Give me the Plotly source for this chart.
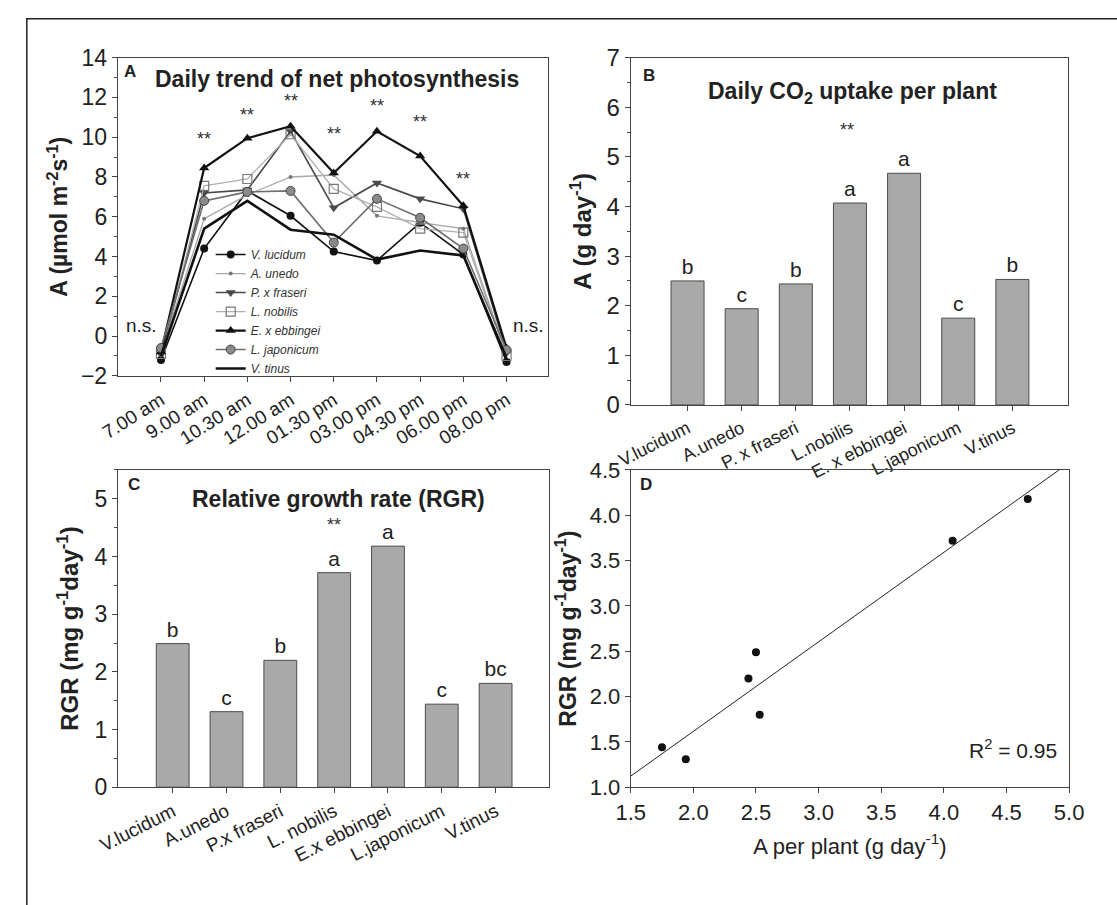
import plotly.graph_objects as go
import numpy as np

# ---------------- data ----------------
times = ["7.00 am", "9.00 am", "10.30 am", "12.00 am", "01.30 pm",
         "03.00 pm", "04.30 pm", "06.00 pm", "08.00 pm"]
v_lucidum = [-1.2, 4.4, 7.3, 6.05, 4.25, 3.8, 5.7, 4.1, -1.3]
a_unedo = [-0.8, 5.9, 7.1, 8.0, 8.1, 6.05, 5.7, 5.4, -0.9]
p_fraseri = [-0.9, 7.2, 7.35, 10.3, 6.45, 7.7, 6.9, 6.4, -0.8]
l_nobilis = [-0.9, 7.55, 7.9, 10.15, 7.4, 6.5, 5.4, 5.2, -1.0]
e_ebbingei = [-0.8, 8.45, 9.95, 10.55, 8.2, 10.3, 9.05, 6.55, -0.6]
l_japonicum = [-0.6, 6.8, 7.25, 7.3, 4.7, 6.9, 5.95, 4.4, -0.7]
v_tinus = [-1.0, 5.4, 6.8, 5.35, 5.1, 3.85, 4.3, 4.05, -1.1]
star_times = ["9.00 am", "10.30 am", "12.00 am", "01.30 pm", "03.00 pm", "04.30 pm", "06.00 pm"]
star_levels = [9.9, 11.1, 11.8, 10.15, 11.55, 10.75, 7.9]

species_b = ["V.lucidum", "A.unedo", "P. x fraseri", "L.nobilis", "E. x ebbingei", "L.japonicum", "V.tinus"]
a_per_plant = [2.50, 1.94, 2.44, 4.07, 4.67, 1.75, 2.53]
letters_b = ["b", "c", "b", "a", "a", "c", "b"]

species_c = ["V.lucidum", "A.unedo", "P.x fraseri", "L. nobilis", "E.x ebbingei", "L.japonicum", "V.tinus"]
rgr = [2.49, 1.31, 2.20, 3.72, 4.18, 1.44, 1.80]
letters_c = ["b", "c", "b", "a", "a", "c", "bc"]

FONT = "Liberation Sans, Arial, sans-serif"
W, H = 1117, 905


def px_x(p):
    return p / W


def px_y(p):
    return (H - p) / H


fig = go.Figure()

# ---------------- panel A ----------------
series = [
    ("V. lucidum", v_lucidum, dict(color="#111111", width=1.6),
     dict(symbol="circle", size=8, color="#111111")),
    ("A. unedo", a_unedo, dict(color="#a8a8a8", width=1.3),
     dict(symbol="circle", size=4, color="#777777")),
    ("P. x fraseri", p_fraseri, dict(color="#4a4a4a", width=1.6),
     dict(symbol="triangle-down", size=9, color="#4a4a4a")),
    ("L. nobilis", l_nobilis, dict(color="#b0b0b0", width=1.3),
     dict(symbol="square-open", size=9, color="#777777", line=dict(width=1.2))),
    ("E. x ebbingei", e_ebbingei, dict(color="#111111", width=2.2),
     dict(symbol="triangle-up", size=9, color="#111111")),
    ("L. japonicum", l_japonicum, dict(color="#6e6e6e", width=1.6),
     dict(symbol="circle", size=9, color="#8a8a8a", line=dict(color="#444444", width=1))),
    ("V. tinus", v_tinus, dict(color="#111111", width=2.6), None),
]
for name, vals, ln, mk in series:
    if mk is None:
        fig.add_trace(go.Scatter(x=times, y=vals, name=name, mode="lines", line=ln,
                                 xaxis="x", yaxis="y"))
    else:
        fig.add_trace(go.Scatter(x=times, y=vals, name=name, mode="lines+markers", line=ln,
                                 marker=mk, xaxis="x", yaxis="y"))

# ---------------- panel B ----------------
fig.add_trace(go.Bar(x=species_b, y=a_per_plant, text=letters_b, textposition="outside",
                     textfont=dict(size=21, color="#222"), cliponaxis=False,
                     marker=dict(color="#a9a9a9", line=dict(color="#4d4d4d", width=1)),
                     width=0.61, showlegend=False, xaxis="x2", yaxis="y2"))

# ---------------- panel C ----------------
fig.add_trace(go.Bar(x=species_c, y=rgr, text=letters_c, textposition="outside",
                     textfont=dict(size=21, color="#222"), cliponaxis=False,
                     marker=dict(color="#a9a9a9", line=dict(color="#4d4d4d", width=1)),
                     width=0.61, showlegend=False, xaxis="x3", yaxis="y3"))

# ---------------- panel D ----------------
slope, intercept = np.polyfit(a_per_plant, rgr, 1)
xf = np.array([1.5, 5.0])
fig.add_trace(go.Scatter(x=xf, y=slope * xf + intercept, mode="lines",
                         line=dict(color="#222", width=1), showlegend=False,
                         xaxis="x4", yaxis="y4"))
fig.add_trace(go.Scatter(x=a_per_plant, y=rgr, mode="markers",
                         marker=dict(color="#111", size=8), showlegend=False,
                         xaxis="x4", yaxis="y4"))

# ---------------- axes ----------------
base = dict(showline=True, linecolor="#444", linewidth=1, mirror=True, ticks="outside",
            ticklen=5, tickcolor="#444", showgrid=False, zeroline=False,
            tickfont=dict(family=FONT, size=22, color="#222"))


def ax(**kw):
    d = dict(base)
    d.update(kw)
    return d


dxA = [px_x(100), px_x(545)]
dyA = [px_y(373), px_y(45)]
dxB = [px_x(630), px_x(1082)]
dyB = [px_y(403), px_y(45)]
dxC = [px_x(100), px_x(546)]
dyC = [px_y(797), px_y(470)]
dxD = [px_x(630), px_x(1083)]
dyD = [px_y(797), px_y(470)]

fig.update_layout(
    width=W, height=H, paper_bgcolor="white", plot_bgcolor="white",
    margin=dict(l=0, r=0, t=0, b=0),
    font=dict(family=FONT, color="#222"),
    xaxis=ax(domain=dxA, anchor="y", type="category", range=[-1.0, 8.97], tickangle=-32,
             tickfont=dict(family=FONT, size=19, color="#222")),
    yaxis=ax(domain=dyA, anchor="x", range=[-2, 14], dtick=2,
             tickfont=dict(family=FONT, size=23, color="#222"),
             minor=dict(dtick=1, ticks="outside", ticklen=3, tickcolor="#444"),
             title=dict(text="<b>A (µmol m<sup>-2</sup>s<sup>-1</sup>)</b>",
                        font=dict(family=FONT, size=23), standoff=6)),
    xaxis2=ax(domain=dxB, anchor="y2", type="category", range=[-1.05, 7.03], tickangle=-27,
              tickfont=dict(family=FONT, size=18, color="#222")),
    yaxis2=ax(domain=dyB, anchor="x2", range=[0, 7], dtick=1,
              tickfont=dict(family=FONT, size=24, color="#222"),
              minor=dict(dtick=0.5, ticks="outside", ticklen=3, tickcolor="#444"),
              title=dict(text="<b>A (g day<sup>-1</sup>)</b>",
                         font=dict(family=FONT, size=24), standoff=8)),
    xaxis3=ax(domain=dxC, anchor="y3", type="category", range=[-1.02, 7.0], tickangle=-27,
              tickfont=dict(family=FONT, size=19, color="#222")),
    yaxis3=ax(domain=dyC, anchor="x3", range=[0, 5.5], dtick=1,
              tickfont=dict(family=FONT, size=23, color="#222"),
              minor=dict(dtick=0.5, ticks="outside", ticklen=3, tickcolor="#444"),
              title=dict(text="<b>RGR (mg g<sup>-1</sup>day<sup>-1</sup>)</b>",
                         font=dict(family=FONT, size=24), standoff=8)),
    xaxis4=ax(domain=dxD, anchor="y4", range=[1.5, 5.0], dtick=0.5, tickformat=".1f",
              tickfont=dict(family=FONT, size=22, color="#222"),
              title=dict(text="A per plant (g day<sup>-1</sup>)",
                         font=dict(family=FONT, size=22), standoff=14)),
    yaxis4=ax(domain=dyD, anchor="x4", range=[1.0, 4.5], dtick=0.5, tickformat=".1f",
              tickfont=dict(family=FONT, size=22, color="#222"),
              title=dict(text="<b>RGR (mg g<sup>-1</sup>day<sup>-1</sup>)</b>",
                         font=dict(family=FONT, size=23), standoff=6)),
    legend=dict(x=px_x(196), y=px_y(233), xanchor="left", yanchor="top",
                bgcolor="rgba(0,0,0,0)", borderwidth=0, itemwidth=30,
                font=dict(family=FONT, size=12, color="#333", style="italic"),
                tracegroupgap=0),
)

ann = []
# panel A
ann.append(dict(x=-0.72, y=13.3, xref="x", yref="y", text="<b>A</b>", showarrow=False,
                font=dict(size=17)))
ann.append(dict(x=4.07, y=12.95, xref="x", yref="y", text="<b>Daily trend of net photosynthesis</b>",
                showarrow=False, font=dict(size=23)))
for t, lv in zip(star_times, star_levels):
    ann.append(dict(x=t, y=lv, xref="x", yref="y", text="**", showarrow=False,
                    font=dict(size=18, color="#333")))
ann.append(dict(x=-0.45, y=0.55, xref="x", yref="y", text="n.s.", showarrow=False,
                font=dict(size=19)))
ann.append(dict(x=8.5, y=0.55, xref="x", yref="y", text="n.s.", showarrow=False,
                font=dict(size=19)))
# panel B
ann.append(dict(x=-0.72, y=6.65, xref="x2", yref="y2", text="<b>B</b>", showarrow=False,
                font=dict(size=17)))
ann.append(dict(x=3.05, y=6.3, xref="x2", yref="y2", text="<b>Daily CO<sub>2</sub> uptake per plant</b>",
                showarrow=False, font=dict(size=23)))
ann.append(dict(x=2.95, y=5.55, xref="x2", yref="y2", text="**", showarrow=False,
                font=dict(size=18, color="#333")))
# panel C
ann.append(dict(x=-0.72, y=5.25, xref="x3", yref="y3", text="<b>C</b>", showarrow=False,
                font=dict(size=17)))
ann.append(dict(x=3.08, y=5.0, xref="x3", yref="y3", text="<b>Relative growth rate (RGR)</b>",
                showarrow=False, font=dict(size=23)))
ann.append(dict(x=3.0, y=4.55, xref="x3", yref="y3", text="**", showarrow=False,
                font=dict(size=18, color="#333")))
# panel D
ann.append(dict(x=1.62, y=4.34, xref="x4", yref="y4", text="<b>D</b>", showarrow=False,
                font=dict(size=17)))
ann.append(dict(x=4.55, y=1.42, xref="x4", yref="y4", text="R<sup>2</sup> = 0.95", showarrow=False,
                font=dict(size=21)))
fig.update_layout(annotations=ann)

# outer border (top and left visible)
fig.add_shape(type="rect", xref="paper", yref="paper",
              x0=px_x(6), y0=-0.02, x1=1.02, y1=px_y(5),
              line=dict(color="#222", width=1.5), fillcolor="rgba(0,0,0,0)")

fig.write_html("out.html", config={"displayModeBar": False},
               post_script="document.body.style.margin='0px';document.body.style.overflow='hidden';")
